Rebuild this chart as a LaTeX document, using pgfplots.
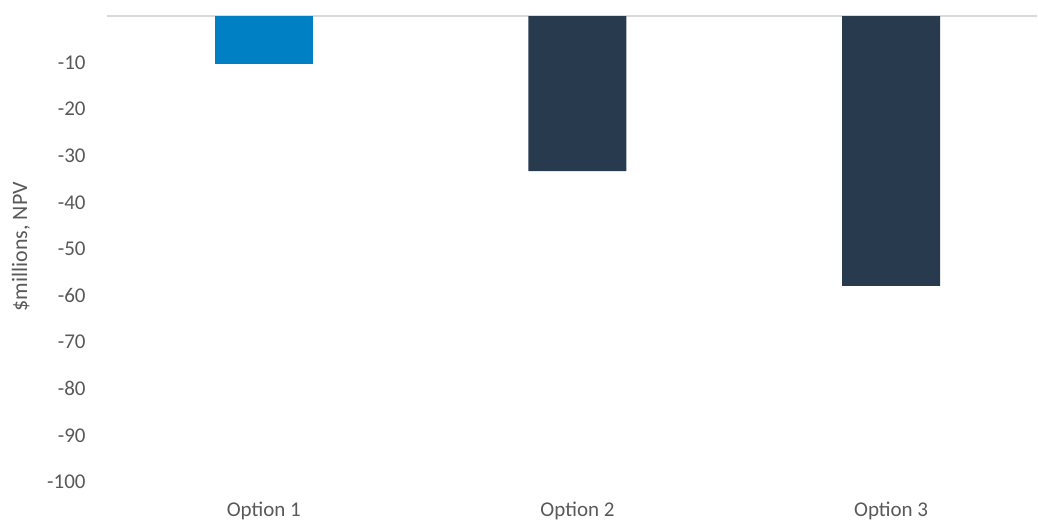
\documentclass[border=0pt]{standalone}
\usepackage{fontspec}
\setmainfont{Carlito}
\usepackage{pgfplots}
\pgfplotsset{compat=1.18}
\definecolor{txt}{HTML}{595959}
\definecolor{blueA}{HTML}{0080C4}
\definecolor{navy}{HTML}{283B4E}
\definecolor{gridc}{HTML}{D9D9D9}
\begin{document}
\fontsize{10.5pt}{12pt}\selectfont
\begin{tikzpicture}
\begin{axis}[
  name=ax,
  scale only axis,
  width=465pt, height=233pt,
  xmin=-0.5, xmax=2.465,
  ymin=-100, ymax=0,
  axis line style={draw=none},
  tick style={draw=none},
  ybar, bar width=49pt, bar shift=0pt,
  xtick={0,1,2},
  xticklabels={Option 1, Option 2, Option 3},
  ytick={-100,-90,...,-10},
  extra y ticks={0},
  extra y tick labels={},
  extra y tick style={grid=major, major grid style={draw=gridc, line width=0.8pt}},
  major tick length=0pt,
  tick label style={font=\fontsize{10.5pt}{12pt}\selectfont, text=txt},
  /pgf/number format/assume math mode=true,
  yticklabel style={inner sep=0pt, xshift=-10.5pt},
  xticklabel style={inner sep=0pt, yshift=-10pt},
  ylabel={\$millions, NPV},
  ylabel style={font=\fontsize{11pt}{13pt}\selectfont, text=txt, at={(axis description cs:-0.0925,0.505)}, anchor=center},
  clip=false,
]
\addplot[ybar, bar shift=0pt, fill=blueA, draw=none] coordinates {(0,-10.3)};
\addplot[ybar, bar shift=0pt, fill=navy, draw=none] coordinates {(1,-33.3) (2,-57.9)};
\end{axis}
\pgfresetboundingbox
\path ([shift={(-53.5pt,-19.5pt)}]ax.south west) rectangle ([shift={(0.5pt,8pt)}]ax.north east);
\end{tikzpicture}
\end{document}
